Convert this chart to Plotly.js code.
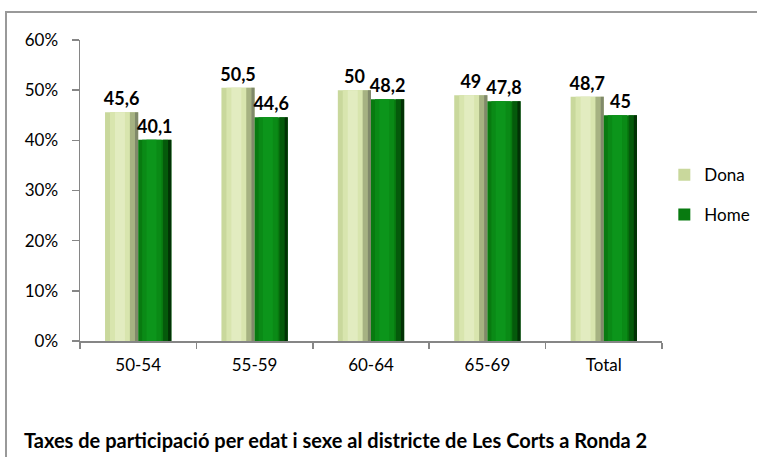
<!DOCTYPE html>
<html><head><meta charset="utf-8">
<script src="https://cdn.plot.ly/plotly-3.0.1.min.js"></script>
<style>
html,body{margin:0;padding:0;background:#fff;overflow:hidden;}
#frame{position:absolute;left:5px;top:11px;width:800px;height:500px;border-left:2px solid #999;border-top:2px solid #999;}
#chart{position:absolute;left:0;top:0;width:757px;height:457px;}
</style></head>
<body>
<div id="frame"></div>
<div id="chart"></div>
<script>
const categories = ["50-54","55-59","60-64","65-69","Total"];
const dona = [45.6, 50.5, 50, 49, 48.7];
const home = [40.1, 44.6, 48.2, 47.8, 45];
const yTicks = [0,10,20,30,40,50,60];
const caption = "Taxes de participació per edat i sexe al districte de Les Corts a Ronda 2";

const fmt = v => String(v).replace('.', ',');
const W = 0.285;
const FONT = 'Lato, "Open Sans", sans-serif';
function strip(y, off, w, color){
  return {type:'bar', x:categories, y:y, offset:off, width:w, marker:{color:color, line:{width:0}},
          showlegend:false, hoverinfo:'skip', cliponaxis:false};
}
const labelFont = {family:FONT, size:18, color:'#000', weight:'bold'};
const traces = [
  {type:'bar', name:'Dona', x:categories, y:dona, offset:-W, width:W,
   marker:{color:'#c9d89c', line:{width:0}}, legend:'legend',
   text:dona.map(fmt), texttemplate:'%{text}', textposition:'outside', constraintext:'none',
   textfont:labelFont, cliponaxis:false},
  strip(dona, -W*0.85, W*0.6, '#d8e5ae'),
  strip(dona, -W*0.7, W*0.3, '#e2ecc0'),
  strip(dona, -W*0.25, W*0.15, '#a6b282'),
  strip(dona, -W*0.1, W*0.1, '#80896a'),
  {type:'bar', name:'Home', x:categories, y:home, offset:0, width:W,
   marker:{color:'#087a10', line:{width:0}}, legend:'legend2',
   text:home.map(fmt), texttemplate:'%{text}', textposition:'outside', constraintext:'none',
   textfont:labelFont, cliponaxis:false},
  strip(home, W*0.12, W*0.58, '#0a8a16'),
  strip(home, W*0.25, W*0.3, '#0c951b'),
  strip(home, W*0.75, W*0.15, '#055a0b'),
  strip(home, W*0.9, W*0.1, '#023205')
];

const layout = {
  width:757, height:457,
  margin:{l:80, r:95, t:40, b:116, autoexpand:false},
  paper_bgcolor:'rgba(0,0,0,0)', plot_bgcolor:'rgba(0,0,0,0)',
  barmode:'overlay',
  font:{family:FONT, size:17, color:'#000'},
  xaxis:{type:'category', showgrid:false, showline:true, linecolor:'#868686', linewidth:1.5,
         ticks:'outside', tickson:'boundaries', ticklen:6, tickcolor:'#868686', tickwidth:1.5,
         ticklabelstandoff:8, tickfont:{size:17}, range:[-0.5,4.5]},
  yaxis:{range:[0,60], tickvals:yTicks, ticktext:yTicks.map(v=>v+'%'), showgrid:false, zeroline:false,
         showline:true, linecolor:'#868686', linewidth:1.5, ticks:'outside', ticklen:7, tickcolor:'#868686',
         tickwidth:1.5, ticklabelstandoff:10, tickfont:{size:17}},
  legend:{x:1.004, y:0.551, xanchor:'left', yanchor:'middle', font:{size:17}, bgcolor:'rgba(0,0,0,0)', itemwidth:30},
  legend2:{x:1.004, y:0.419, xanchor:'left', yanchor:'middle', font:{size:17}, bgcolor:'rgba(0,0,0,0)', itemwidth:30},
  annotations:[{text:'<b>'+caption+'</b>', xref:'paper', yref:'paper', x:-0.1, y:-0.329,
    xanchor:'left', yanchor:'middle', showarrow:false, font:{size:20, color:'#000'}}]
};
Plotly.newPlot('chart', traces, layout, {displayModeBar:false, staticPlot:true});
</script>
</body></html>
